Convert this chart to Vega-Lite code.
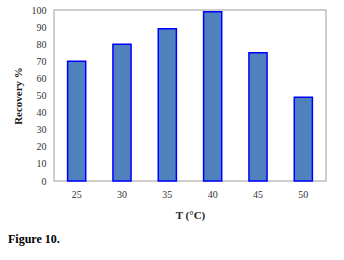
{
  "$schema": "https://vega.github.io/schema/vega-lite/v6.json",
  "autosize": {"type": "none"},
  "padding": {"left": 54, "top": 10, "right": 18, "bottom": 79},
  "width": 272,
  "height": 171,
  "background": "white",
  "config": {
    "font": "Liberation Serif",
    "view": {"stroke": "#bfbfbf", "strokeWidth": 1.5}
  },
  "title": {
    "text": "Figure 10.",
    "orient": "bottom",
    "anchor": "start",
    "frame": "bounds",
    "font": "Liberation Serif",
    "fontSize": 12,
    "fontWeight": "bold",
    "color": "#000000",
    "offset": 14,
    "dx": -4
  },
  "data": {
    "values": [
      {"T": "25", "Recovery": 70},
      {"T": "30", "Recovery": 80},
      {"T": "35", "Recovery": 89},
      {"T": "40", "Recovery": 99},
      {"T": "45", "Recovery": 75},
      {"T": "50", "Recovery": 49}
    ]
  },
  "mark": {"type": "bar", "fill": "#4F81BD", "stroke": "#0000FF", "strokeWidth": 1.5},
  "encoding": {
    "x": {
      "field": "T", "type": "ordinal", "sort": null,
      "scale": {"paddingInner": 0.6, "paddingOuter": 0.3},
      "axis": {
        "title": "T (°C)", "labelAngle": 0, "ticks": false, "domain": false,
        "labelFontSize": 10, "labelColor": "#333333", "labelPadding": 8,
        "titleFontSize": 11, "titleFontWeight": "bold", "titleColor": "#222222", "titlePadding": 10
      }
    },
    "y": {
      "field": "Recovery", "type": "quantitative",
      "scale": {"domain": [0, 100]},
      "axis": {
        "title": "Recovery %", "values": [0,10,20,30,40,50,60,70,80,90,100],
        "grid": false, "ticks": false, "domain": false,
        "labelFontSize": 10, "labelColor": "#333333", "labelPadding": 8,
        "titleFontSize": 11, "titleFontWeight": "bold", "titleColor": "#222222", "titlePadding": 8
      }
    }
  }
}
